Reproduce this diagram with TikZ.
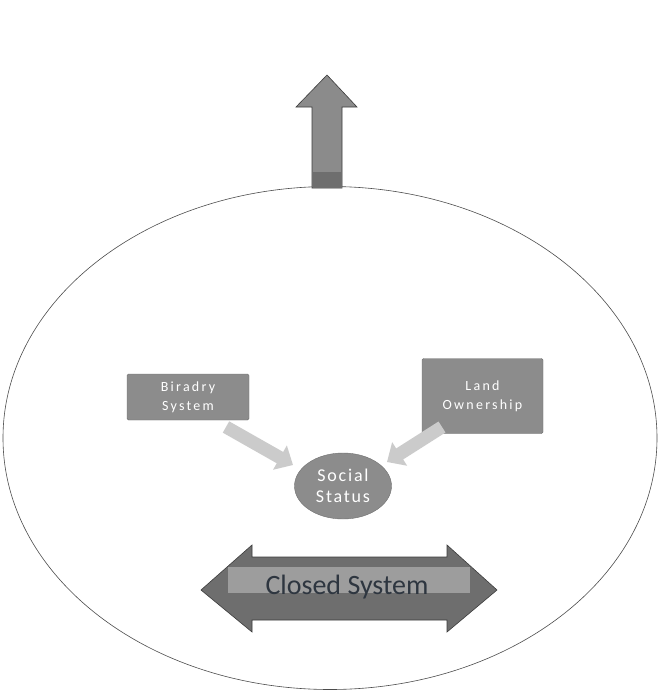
\documentclass[tikz,border=0pt]{standalone}
\usepackage{fontspec}
\setmainfont{Carlito}
\usetikzlibrary{arrows.meta,shapes.geometric}
\definecolor{boxgray}{HTML}{8C8C8C}
\definecolor{lightarr}{HTML}{CBCBCB}
\definecolor{arrdark}{HTML}{6E6E6E}
\definecolor{arredge}{HTML}{3C3C3C}
\definecolor{cstext}{HTML}{2E3640}
\begin{document}
\begin{tikzpicture}[x=1pt,y=-1pt,
  box/.style={draw=boxgray!80!black, fill=boxgray, rounded corners=1.5pt, text=white, font=\fontsize{14}{19}\selectfont\addfontfeature{LetterSpace=16}, align=center, inner sep=0pt},
  feed/.style={line width=13pt, color=lightarr, -{Triangle[width=27pt,length=15pt]}}]
\useasboundingbox (0,0) rectangle (659,699);
\fill[white] (0,0) rectangle (659,699);
% big ellipse
\node[draw=black!70, line width=0.6pt, ellipse, minimum width=654pt, minimum height=503pt, inner sep=0pt] (sys) at (330,438) {};
% up arrow
\path[fill=arrdark!80!white, draw=arredge, line width=0.6pt]
  (312,188) -- (312,107) -- (296,107) -- (327,75) -- (357,107) -- (342,107) -- (342,188) -- cycle;
\fill[arrdark] (312.5,172) rectangle (341.5,187.5);
% boxes
\node[box, minimum width=122pt, minimum height=46pt] (bir) at (188,397) {Biradry\\System};
\node[box, minimum width=121pt, minimum height=75pt] (land) at (482.5,396) {Land\\Ownership};
\node[draw=boxgray!80!black, fill=boxgray, ellipse, minimum width=97pt, minimum height=66pt, inner sep=0pt, text=white, align=center, font=\fontsize{18}{21}\selectfont\addfontfeature{LetterSpace=10}] (ss) at (343,486) {Social\\Status};
% feed arrows
\coordinate (b1) at (226,427);
\coordinate (b2) at (293,465);
\coordinate (l1) at (442,427);
\coordinate (l2) at (387,462);
\draw[feed] (b1) -- (b2);
\draw[feed] (l1) -- (l2);
% closed system double arrow
\path[fill=arrdark, draw=arredge, line width=0.6pt]
  (201,590) -- (252,545) -- (252,557) -- (447,557) -- (447,545) -- (497,590)
  -- (447,632) -- (447,620) -- (252,620) -- (252,632) -- cycle;
\fill[boxgray!85!white] (228,567) rectangle (470,593);
\node[font=\fontsize{28}{30}\selectfont, text=cstext] (cs) at (347,587) {Closed System};
\end{tikzpicture}
\end{document}
